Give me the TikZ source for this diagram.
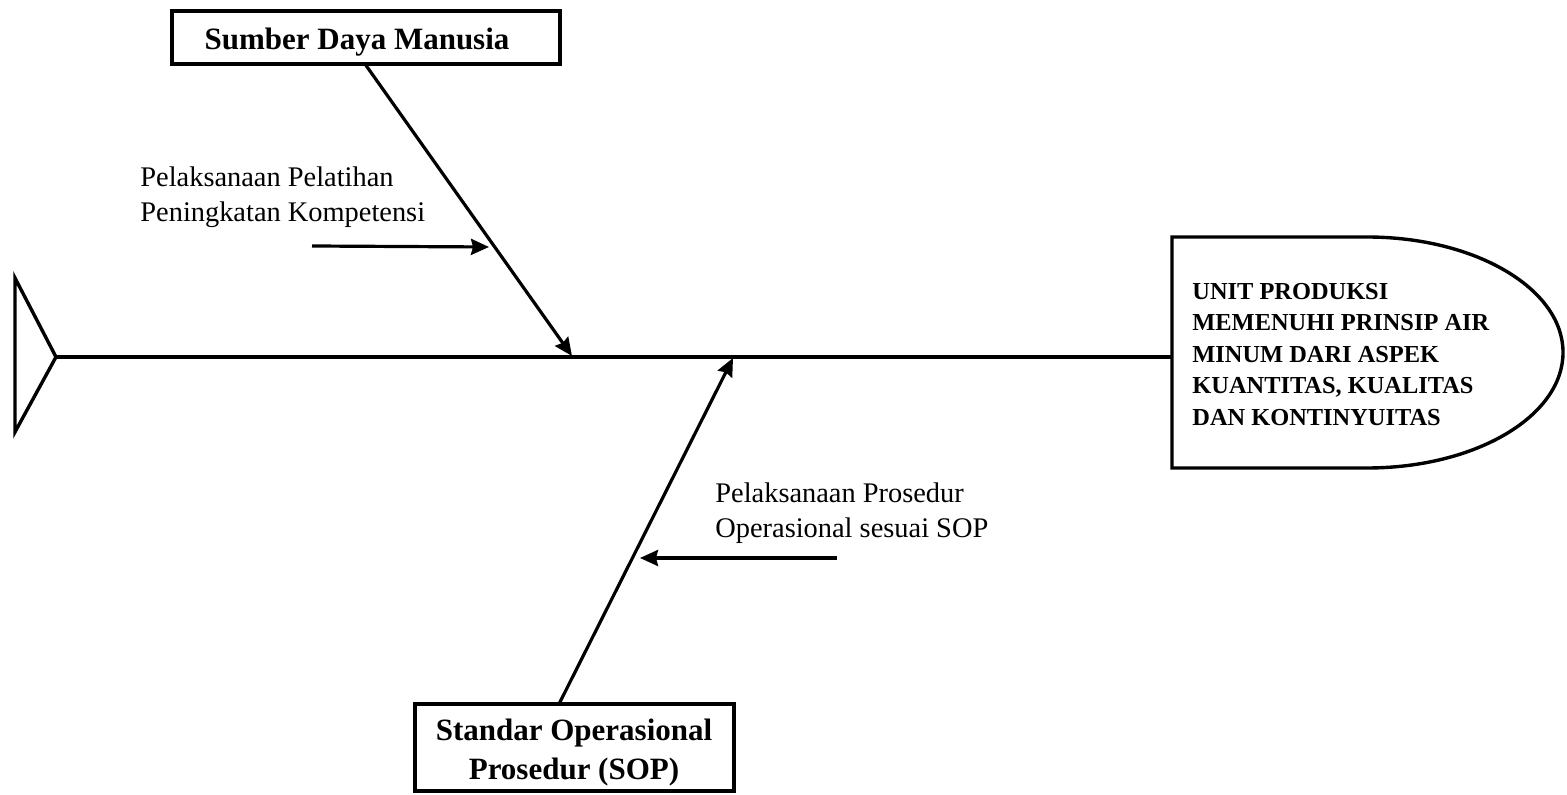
\documentclass[tikz,border=0pt]{standalone}
\usepackage{fontspec}
\setmainfont{Liberation Serif}
\usetikzlibrary{arrows.meta}
\begin{document}
\begin{tikzpicture}[x=0.5pt,y=-0.5pt,
  bone/.style={line width=1.7pt},
  arr/.style={line width=1.6pt,-{Stealth[length=9pt,width=8pt,inset=1pt]}},
  boxframe/.style={draw,line width=1.7pt,inner sep=0pt},
  boxtext/.style={font=\fontsize{15.5pt}{19.5pt}\selectfont\bfseries,align=center,inner sep=0pt},
  causetext/.style={font=\fontsize{14.2pt}{17.5pt}\selectfont,align=left,inner sep=0pt,anchor=west},
  effecttext/.style={font=\fontsize{12.2pt}{15.75pt}\selectfont\bfseries,align=left,inner sep=0pt,anchor=west}]
\useasboundingbox (0,0) rectangle (1567,795);
% tail
\coordinate (tailtop) at (15,278);
\coordinate (tailtip) at (56,357);
\coordinate (tailbot) at (15,432);
\draw[bone,line join=miter] (tailtop) -- (tailtip) -- (tailbot) -- cycle;
% head (effect)
\coordinate (head) at (1172,357);
\draw[bone] (1367,237) -- (1172,237) -- (1172,468) -- (1367,468)
  .. controls (1475.3,468) and (1563,416.3) .. (1563,352.5)
  .. controls (1563,288.7) and (1475.3,237) .. (1367,237);
\node[effecttext] (effect) at (1192,354.5) {UNIT PRODUKSI\\MEMENUHI PRINSIP AIR\\MINUM DARI ASPEK\\KUANTITAS, KUALITAS\\DAN KONTINYUITAS};
% spine
\draw[bone] (tailtip) -- (head);
% top cause
\node[boxframe,minimum width=194pt,minimum height=26.5pt] (sdmbox) at (366,37.5) {};
\node[boxtext] (sdm) at (357,42) {Sumber Daya Manusia};
\coordinate (sdmfoot) at (365,64);
\coordinate (sdmend) at (572,356);
\draw[arr] (sdmfoot) -- (sdmend);
\node[causetext] (sdmsub) at (140,197.5) {Pelaksanaan Pelatihan\\Peningkatan Kompetensi};
\coordinate (sdmsubstart) at (312,246);
\coordinate (sdmsubend) at (489,247);
\draw[arr] (sdmsubstart) -- (sdmsubend);
% bottom cause
\node[boxframe,minimum width=159.5pt,minimum height=43.5pt] (sopbox) at (574.5,747.5) {};
\node[boxtext] (sop) at (574,752.5) {Standar Operasional\\Prosedur (SOP)};
\coordinate (sopfoot) at (559,704);
\coordinate (sopend) at (733,358);
\draw[arr] (sopfoot) -- (sopend);
\node[causetext] (sopsub) at (715,513.5) {Pelaksanaan Prosedur\\Operasional sesuai SOP};
\coordinate (sopsubstart) at (837,558);
\coordinate (sopsubend) at (640,558);
\draw[arr] (sopsubstart) -- (sopsubend);
\end{tikzpicture}
\end{document}
